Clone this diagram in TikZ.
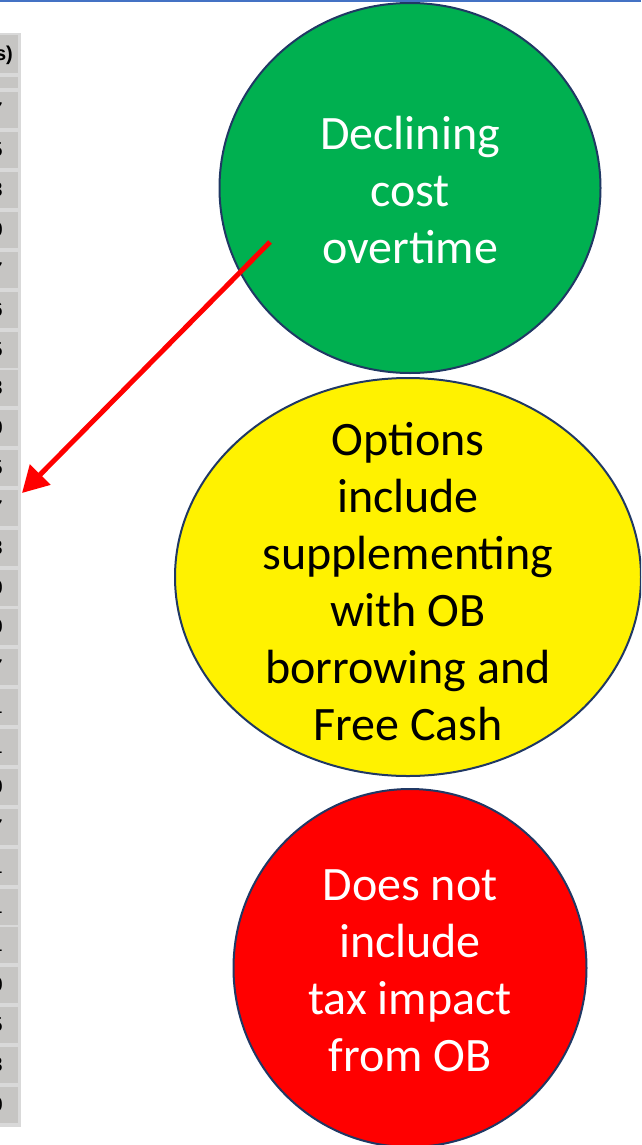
\documentclass[tikz,border=0pt]{standalone}
\usepackage{fontspec}
\setmainfont{Carlito}
\newfontfamily\cellfont{Liberation Sans}
\usetikzlibrary{shapes.geometric,arrows.meta}

\definecolor{navyline}{HTML}{203864}
\definecolor{topblue}{HTML}{4472C4}
\definecolor{okgreen}{HTML}{00B050}
\definecolor{cellgray}{HTML}{C6C5C3}
\definecolor{gridgray}{HTML}{D9D9D9}

\tikzset{
  bubble/.style={ellipse, draw=navyline, line width=2pt, inner sep=0pt},
  bubbletext/.style={align=center, inner sep=0pt, font=\fontsize{48}{57}\selectfont},
  cell/.style={fill=cellgray},
  celltext/.style={anchor=east, inner sep=0pt, font=\cellfont\fontsize{20}{22}\selectfont},
  pointer/.style={draw=red, line width=5pt, -{Triangle[length=26pt,width=28pt]}}
}

\begin{document}
\begin{tikzpicture}[x=1pt, y=-1pt]
    \useasboundingbox (0,0) rectangle (641,1145);
    \clip (0,0) rectangle (641,1145);

    % Coordinates
    \coordinate (P) at (270,242);
    \coordinate (Q) at (22,493);

    % Table strip
    \fill[gridgray] (0,33) rectangle (21,1127);
    \fill[cell] (0,35) rectangle (18,73);
    \fill[cell] (0,77) rectangle (18,88);
    \node[celltext, font=\cellfont\bfseries\fontsize{20}{22}\selectfont] (head) at (13,55) {s)};
    \foreach \top/\dig [count=\i] in {90/7,130/5,170/3,210/0,250/7,290/6,330/5,368/3,
        408/0,448/5,488/7,528/3,568/0,607/0,647/7,687/1,727/1,767/0,807/7,847/1,
        887/1,925/1,965/0,1005/5,1045/3,1085/0} {
      \fill[cell] (0,\top+2) rectangle (18,\top+38);
      \node[celltext] (row\i) at (3,\top+20) {\dig};
    }

    % Top rule
    \fill[topblue] (0,0) rectangle (641,2);

    % Bubbles
    \node[bubble, fill=okgreen, minimum width=381pt, minimum height=370pt]
      (green) at (410,188) {};
    \node[bubble, fill=yellow, minimum width=466pt, minimum height=398pt]
      (yellow) at (408,577) {};
    \node[bubble, fill=red, minimum width=353pt, minimum height=358pt]
      (red) at (410,968) {};

    % Texts
    \node[bubbletext, text=white] (greentext) at (410,190) {Declining\\cost\\overtime};
    \node[bubbletext, text=black] (yellowtext) at (408,582)
      {Options\\include\\supplementing\\with OB\\borrowing and\\Free Cash};
    \node[bubbletext, text=white] (redtext) at (410,971) {Does not\\include\\tax impact\\from OB};

    % Arrow
    \draw[pointer] (P) -- (Q);
\end{tikzpicture}
\end{document}
